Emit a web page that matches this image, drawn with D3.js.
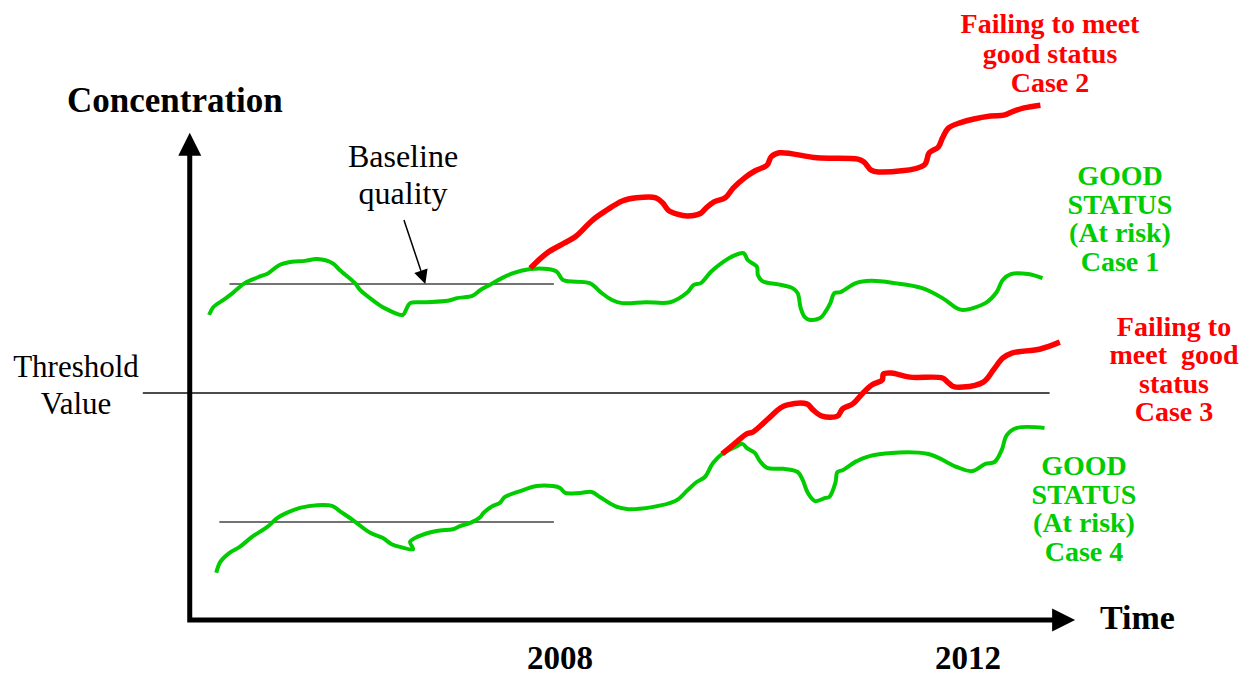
<!DOCTYPE html>
<html>
<head>
<meta charset="utf-8">
<script src="https://cdn.jsdelivr.net/npm/d3@7"></script>
<style>
  body { margin: 0; background: #fff; }
  svg { display: block; font-family: 'Liberation Serif', 'Times New Roman', serif; }
</style>
</head>
<body>
<svg width="1251" height="675"></svg>
<script>
const svg = d3.select('svg');

// x = decimal year, y = concentration (threshold value = 50)
const case1Good = [
  [2004.56, 67.2], [2004.60, 68.9], [2004.70, 70.5], [2004.79, 72.0], [2004.91, 74.2], [2005.04, 75.5],
  [2005.14, 76.4], [2005.25, 78.2], [2005.37, 78.9], [2005.50, 79.1], [2005.62, 79.5], [2005.77, 78.6],
  [2005.84, 77.1], [2005.99, 74.2], [2006.04, 72.7], [2006.16, 70.5], [2006.28, 68.7], [2006.46, 67.2],
  [2006.49, 68.3], [2006.53, 69.8], [2006.66, 70.0], [2006.90, 70.3], [2006.99, 70.9], [2007.14, 71.4],
  [2007.22, 72.7], [2007.31, 73.8], [2007.43, 75.3], [2007.54, 76.4], [2007.71, 77.3], [2007.88, 77.3],
  [2007.97, 76.7], [2008.03, 74.9], [2008.29, 74.2], [2008.41, 72.0], [2008.51, 70.5], [2008.61, 69.8],
  [2008.84, 70.0], [2009.08, 70.0], [2009.25, 72.2], [2009.31, 73.8], [2009.38, 74.2], [2009.48, 76.7],
  [2009.60, 78.9], [2009.70, 80.2], [2009.80, 80.8], [2009.84, 79.3], [2009.93, 77.8], [2009.94, 76.0],
  [2009.98, 74.7], [2010.17, 73.8], [2010.28, 73.1], [2010.33, 72.0], [2010.36, 68.7], [2010.40, 66.7],
  [2010.45, 66.1], [2010.55, 66.5], [2010.60, 67.8], [2010.65, 69.8], [2010.69, 72.0], [2010.75, 72.2],
  [2010.90, 74.2], [2011.05, 74.7], [2011.28, 74.2], [2011.55, 73.1], [2011.75, 70.9], [2011.89, 68.7],
  [2011.95, 68.3], [2012.17, 69.8], [2012.28, 72.2], [2012.34, 74.9], [2012.42, 76.2], [2012.59, 76.2],
  [2012.73, 75.3]
];

const case2Failing = [
  [2007.71, 77.5], [2007.87, 80.8], [2008.04, 83.0], [2008.15, 84.4], [2008.32, 88.1], [2008.46, 90.3],
  [2008.61, 92.3], [2008.75, 93.0], [2008.94, 93.0], [2009.01, 91.8], [2009.06, 90.3], [2009.15, 89.4],
  [2009.25, 89.0], [2009.38, 89.6], [2009.43, 90.7], [2009.51, 92.1], [2009.62, 93.0], [2009.70, 95.2],
  [2009.81, 97.4], [2009.91, 98.9], [2010.03, 100.2], [2010.07, 102.0], [2010.15, 102.9], [2010.52, 101.8],
  [2010.92, 101.5], [2010.98, 100.9], [2011.05, 99.1], [2011.12, 98.7], [2011.57, 100.2], [2011.62, 102.9],
  [2011.71, 104.2], [2011.75, 106.2], [2011.81, 108.4], [2011.92, 109.5], [2012.22, 111.0], [2012.35, 111.2],
  [2012.45, 112.1], [2012.55, 112.8], [2012.71, 113.4]
];

const case4Good = [
  [2004.63, 10.4], [2004.67, 12.8], [2004.76, 14.8], [2004.86, 16.1], [2004.98, 18.3], [2005.13, 20.5],
  [2005.23, 22.5], [2005.32, 23.6], [2005.45, 24.7], [2005.62, 25.3], [2005.77, 25.1], [2005.84, 24.0],
  [2005.97, 22.0], [2006.14, 19.2], [2006.26, 18.1], [2006.35, 16.7], [2006.43, 16.1], [2006.56, 15.6],
  [2006.53, 17.2], [2006.60, 18.3], [2006.79, 19.6], [2006.95, 20.0], [2007.02, 20.7], [2007.12, 21.4],
  [2007.22, 22.7], [2007.25, 23.6], [2007.34, 25.1], [2007.41, 25.8], [2007.46, 27.1], [2007.61, 28.4],
  [2007.77, 29.5], [2007.93, 29.5], [2008.00, 29.1], [2008.05, 28.0], [2008.20, 28.0], [2008.31, 28.2],
  [2008.39, 27.1], [2008.54, 25.1], [2008.67, 24.4], [2009.13, 26.2], [2009.25, 28.6], [2009.34, 30.4],
  [2009.42, 31.5], [2009.50, 34.6], [2009.59, 36.6], [2009.72, 38.1], [2009.79, 38.8], [2009.83, 37.9],
  [2009.91, 36.8], [2009.96, 35.0], [2010.03, 33.5], [2010.19, 33.3], [2010.33, 32.6], [2010.38, 30.8],
  [2010.43, 28.0], [2010.50, 26.2], [2010.60, 26.9], [2010.64, 27.1], [2010.70, 30.2], [2010.72, 32.6],
  [2010.77, 33.0], [2010.91, 35.0], [2011.07, 36.3], [2011.60, 36.6], [2011.89, 33.7], [2012.04, 32.8],
  [2012.17, 34.4], [2012.26, 34.8], [2012.33, 37.4], [2012.38, 40.7], [2012.48, 42.3], [2012.75, 42.3]
];

const case3Failing = [
  [2009.59, 36.6], [2009.72, 39.0], [2009.83, 41.0], [2009.89, 41.4], [2010.03, 44.1], [2010.16, 46.7],
  [2010.23, 47.4], [2010.42, 47.6], [2010.48, 46.3], [2010.57, 44.9], [2010.72, 44.9], [2010.77, 46.5],
  [2010.87, 47.6], [2010.97, 50.0], [2011.06, 51.8], [2011.16, 52.9], [2011.17, 54.2], [2011.25, 54.4],
  [2011.43, 53.5], [2011.75, 53.3], [2011.80, 52.4], [2011.85, 51.5], [2011.95, 51.3], [2012.15, 52.4],
  [2012.25, 55.1], [2012.34, 57.7], [2012.43, 58.8], [2012.71, 59.7], [2012.90, 61.2]
];

const thresholdValue = 50;
const thresholdSpan = [2003.91, 2012.80];
// baseline quality: [startYear, endYear, level]
const baselines = [[2004.76, 2007.94, 74.0], [2004.66, 2007.94, 21.6]];
const baselineArrow = [[2006.47, 88.1], [2006.68, 74.0]];
const tickYears = [2008, 2012];
const axisStart = {year: 2004.37, conc: 0};
const axisEnd = {year: 2013.05, conc: 107.3};

const green = '#00cc00';
const red = '#ff0000';

const xScale = d3.scaleLinear().domain([2008, 2012]).range([560, 968]);
const yScale = d3.scaleLinear().domain([0, thresholdValue]).range([620, 393]);

const g = svg.append('g');

// threshold
g.append('line')
  .attr('x1', xScale(thresholdSpan[0])).attr('x2', xScale(thresholdSpan[1]))
  .attr('y1', yScale(thresholdValue)).attr('y2', yScale(thresholdValue))
  .attr('stroke', '#111').attr('stroke-width', 1.4);

// baselines
g.selectAll('.baseline').data(baselines)
  .enter().append('line')
    .attr('class', 'baseline')
    .attr('x1', d => xScale(d[0])).attr('x2', d => xScale(d[1]))
    .attr('y1', d => yScale(d[2])).attr('y2', d => yScale(d[2]))
    .attr('stroke', '#444').attr('stroke-width', 1.5);

const line = d3.line()
  .x(d => xScale(d[0]))
  .y(d => yScale(d[1]))
  .curve(d3.curveCatmullRom.alpha(0.5));

const series = [
  {data: case1Good, color: green, width: 4},
  {data: case4Good, color: green, width: 4},
  {data: case2Failing, color: red, width: 5.5},
  {data: case3Failing, color: red, width: 5.5}
];

g.selectAll('.series').data(series)
  .enter().append('path')
    .attr('class', 'series')
    .attr('d', d => line(d.data))
    .attr('fill', 'none')
    .attr('stroke', d => d.color)
    .attr('stroke-width', d => d.width)
    .attr('stroke-linejoin', 'round');

// axes with arrows
const ox = xScale(axisStart.year), oy = yScale(axisStart.conc);
const topY = yScale(axisEnd.conc), rightX = xScale(axisEnd.year);
const headLen = 23, headHalf = 11.5;

g.append('path')
  .attr('d', `M${ox},${topY + headLen - 1} L${ox},${oy} L${rightX - headLen + 1},${oy}`)
  .attr('fill', 'none').attr('stroke', '#000').attr('stroke-width', 5)
  .attr('stroke-linejoin', 'miter');

g.append('path')
  .attr('d', `M${ox},${topY} L${ox - headHalf},${topY + headLen} L${ox + headHalf},${topY + headLen}Z`)
  .attr('fill', '#000');
g.append('path')
  .attr('d', `M${rightX},${oy} L${rightX - headLen},${oy - headHalf} L${rightX - headLen},${oy + headHalf}Z`)
  .attr('fill', '#000');

// baseline arrow
const a0 = [xScale(baselineArrow[0][0]), yScale(baselineArrow[0][1])];
const a1 = [xScale(baselineArrow[1][0]), yScale(baselineArrow[1][1])];
const ang = Math.atan2(a1[1] - a0[1], a1[0] - a0[0]);
const ah = 14, aw = 7;
const bx = a1[0] - ah * Math.cos(ang), by = a1[1] - ah * Math.sin(ang);
g.append('line')
  .attr('x1', a0[0]).attr('y1', a0[1]).attr('x2', bx).attr('y2', by)
  .attr('stroke', '#000').attr('stroke-width', 1.5);
g.append('path')
  .attr('d', `M${a1[0]},${a1[1]} L${bx - aw * Math.sin(ang)},${by + aw * Math.cos(ang)} L${bx + aw * Math.sin(ang)},${by - aw * Math.cos(ang)}Z`)
  .attr('fill', '#000');

// tick labels
g.selectAll('.tick-label').data(tickYears)
  .enter().append('text')
    .attr('class', 'tick-label')
    .attr('x', d => xScale(d))
    .attr('y', 669)
    .attr('text-anchor', 'middle')
    .attr('font-weight', 'bold')
    .attr('font-size', 33)
    .text(d => d);

g.append('text')
  .attr('x', 67).attr('y', 112)
  .attr('font-weight', 'bold').attr('font-size', 35)
  .text('Concentration');

g.append('text')
  .attr('x', 1100).attr('y', 629)
  .attr('font-weight', 'bold').attr('font-size', 34)
  .text('Time');

const blocks = [
  {x: 76, y: 377, lh: 37, size: 31, weight: 'normal', color: '#000', lines: ['Threshold', 'Value']},
  {x: 403, y: 167, lh: 37, size: 32, weight: 'normal', color: '#000', lines: ['Baseline', 'quality']},
  {x: 1050, y: 33, lh: 29.5, size: 28, weight: 'bold', color: red, lines: ['Failing to meet', 'good status', 'Case 2']},
  {x: 1120, y: 185, lh: 28.7, size: 28, weight: 'bold', color: green, lines: ['GOOD', 'STATUS', '(At risk)', 'Case 1']},
  {x: 1174, y: 336, lh: 28.3, size: 28, weight: 'bold', color: red, lines: ['Failing to', 'meet  good', 'status', 'Case 3']},
  {x: 1084, y: 475, lh: 28.7, size: 28, weight: 'bold', color: green, lines: ['GOOD', 'STATUS', '(At risk)', 'Case 4']}
];

blocks.forEach(b => {
  const t = g.append('text')
    .attr('text-anchor', 'middle')
    .attr('font-size', b.size)
    .attr('font-weight', b.weight)
    .attr('fill', b.color)
    .style('white-space', 'pre');
  b.lines.forEach((l, i) => {
    t.append('tspan').attr('x', b.x).attr('y', b.y + i * b.lh).text(l);
  });
});
</script>
</body>
</html>
